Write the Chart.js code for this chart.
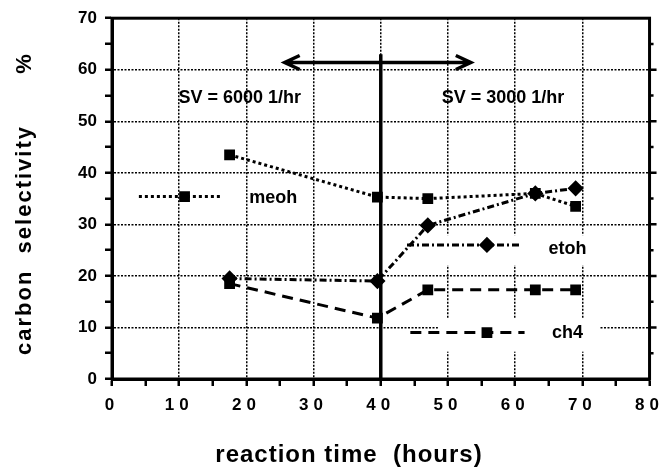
<!DOCTYPE html>
<html>
<head>
<meta charset="utf-8">
<script src="https://cdn.jsdelivr.net/npm/chart.js@4.4.1/dist/chart.umd.min.js"></script>
<style>
  html, body { margin: 0; padding: 0; background: #fff; }
  #wrap { width: 668px; height: 471px; }
</style>
</head>
<body>
<div id="wrap"><canvas id="chart" width="668" height="471"></canvas></div>
<script>
// sample times (hours) and carbon selectivity (%) per product
const timeHours = [17.5, 39.5, 47, 63, 69];
const meohSel = [43.5, 35.3, 35.0, 36.0, 33.5];
const etohSel = [19.5, 19.0, 29.8, 36.0, 37.0];
const ch4Sel = [18.5, 11.8, 17.3, 17.3, 17.3];

// axis ticks
const xTickLabels = ['0', '10', '20', '30', '40', '50', '60', '70', '80'];
const yTickLabels = ['0', '10', '20', '30', '40', '50', '60', '70'];

// in-plot keys: line sample x range + marker x, and height
const meohKeyX = [4, 10.8, 16.4];
const meohKeyY = 35.4;
const etohKeyX = [43.9, 55.8, 60.6];
const etohKeyY = 26.0;
const ch4KeyX = [44.4, 55.8, 61.4];
const ch4KeyY = 9.0;

// space velocity change at 40 h
const switchTime = 40;
const switchTop = 63;
const arrowSpan = [25.7, 53.4];
const arrowLevel = 61.4;
const svLabels = ['SV = 6000 1/hr', 'SV = 3000 1/hr'];
const svLabelX = [19, 58.2];
const svLabelY = 54.5;

const pts = (xs, ys) => xs.map((x, i) => ({ x: x, y: ys[i] }));
const flat = (xs, y) => xs.map(x => ({ x: x, y: y }));

const FONT = "'Liberation Sans', Arial, sans-serif";

const annotate = {
    id: 'annotate',
    beforeDatasetsDraw(chart) {
        const { ctx, chartArea: a, scales: { x, y } } = chart;
        ctx.save();
        // white patches behind the keys (they hide the grid there)
        ctx.fillStyle = '#fff';
        const patch = (x0, x1, y0, y1) => {
            const px0 = x.getPixelForValue(x0), px1 = x.getPixelForValue(x1);
            const py0 = y.getPixelForValue(y0), py1 = y.getPixelForValue(y1);
            ctx.fillRect(px0, py1, px1 - px0, py0 - py1);
        };
        patch(43, 76, 22.1, 27.9);
        patch(48.5, 72.5, 5.3, 11.8);
        // frame
        ctx.strokeStyle = '#000';
        ctx.lineWidth = 3;
        ctx.strokeRect(a.left, a.top, a.width, a.height);
        // ticks on the right edge
        ctx.lineWidth = 2.5;
        ctx.beginPath();
        for (let v = 5; v < 70; v += 5) {
            const py = y.getPixelForValue(v);
            ctx.moveTo(a.right, py);
            ctx.lineTo(a.right + (v % 10 ? 4 : 7), py);
        }
        ctx.stroke();
        ctx.restore();
    },
    afterDatasetsDraw(chart) {
        const { ctx, scales: { x, y } } = chart;
        ctx.save();
        ctx.fillStyle = '#000';
        ctx.strokeStyle = '#000';
        ctx.textBaseline = 'middle';
        ctx.textAlign = 'center';
        ctx.font = 'bold 18px ' + FONT;
        svLabels.forEach((t, i) => {
            ctx.fillText(t, x.getPixelForValue(svLabelX[i]), y.getPixelForValue(svLabelY));
        });
        ctx.fillText('meoh', x.getPixelForValue(24), y.getPixelForValue(35.2));
        ctx.fillText('etoh', x.getPixelForValue(67.8), y.getPixelForValue(25.2));
        ctx.fillText('ch4', x.getPixelForValue(67.8), y.getPixelForValue(9.0));

        // double arrow
        const ax0 = x.getPixelForValue(arrowSpan[0]);
        const ax1 = x.getPixelForValue(arrowSpan[1]);
        const ay = y.getPixelForValue(arrowLevel);
        ctx.lineWidth = 3.5;
        ctx.lineJoin = 'miter';
        ctx.beginPath();
        ctx.moveTo(ax0, ay);
        ctx.lineTo(ax1, ay);
        ctx.moveTo(ax0 + 15, ay - 7);
        ctx.lineTo(ax0, ay);
        ctx.lineTo(ax0 + 15, ay + 7);
        ctx.moveTo(ax1 - 15, ay - 7);
        ctx.lineTo(ax1, ay);
        ctx.lineTo(ax1 - 15, ay + 7);
        ctx.stroke();
        ctx.restore();
    },
    afterDraw(chart) {
        const { ctx } = chart;
        ctx.save();
        ctx.fillStyle = '#000';
        ctx.textAlign = 'center';
        ctx.textBaseline = 'middle';
        ctx.font = 'bold 24px ' + FONT;
        ctx.letterSpacing = '1px';
        ctx.fillText('reaction time  (hours)', 349, 455);
        ctx.translate(25, 240);
        ctx.rotate(-Math.PI / 2);
        ctx.font = 'bold 22px ' + FONT;
        ctx.letterSpacing = '2px';
        ctx.fillText('carbon  selectivity', 0, 0);
        ctx.fillText('%', 177, 0);
        ctx.restore();
    }
};

// spaced-out digits on the time axis
const spacedLabels = {
    id: 'spacedLabels',
    beforeDraw(chart) {
        const sx = chart.scales.x;
        if (sx && !sx._spaced) {
            const orig = sx.drawLabels.bind(sx);
            sx.drawLabels = function (area) {
                this.ctx.save();
                this.ctx.letterSpacing = '5px';
                orig(area);
                this.ctx.restore();
            };
            sx._spaced = true;
        }
    }
};

const tickEvery5 = (labels) => (v) => (v % 10 === 0 ? labels[v / 10] : '');

new Chart(document.getElementById('chart'), {
    type: 'line',
    data: {
        datasets: [{
            label: 'meoh',
            data: pts(timeHours, meohSel),
            borderColor: '#000',
            backgroundColor: '#000',
            borderWidth: 3,
            borderDash: [3, 3],
            pointStyle: 'rect',
            pointRadius: 5.5,
            tension: 0
        }, {
            label: 'ch4',
            data: pts(timeHours, ch4Sel),
            borderColor: '#000',
            backgroundColor: '#000',
            borderWidth: 3,
            borderDash: [11, 7],
            pointStyle: 'rect',
            pointRadius: 5.5,
            tension: 0
        }, {
            label: 'etoh',
            data: pts(timeHours, etohSel),
            borderColor: '#000',
            backgroundColor: '#000',
            borderWidth: 3,
            borderDash: [7, 3, 2, 3],
            pointStyle: 'rectRot',
            pointRadius: 6,
            tension: 0
        }, {
            label: 'meoh key',
            data: flat(meohKeyX, meohKeyY),
            borderColor: '#000',
            backgroundColor: '#000',
            borderWidth: 3,
            borderDash: [3, 3],
            pointStyle: 'rect',
            pointRadius: [0, 5.5, 0]
        }, {
            label: 'etoh key',
            data: flat(etohKeyX, etohKeyY),
            borderColor: '#000',
            backgroundColor: '#000',
            borderWidth: 3,
            borderDash: [7, 3, 2, 3],
            pointStyle: 'rectRot',
            pointRadius: [0, 6, 0]
        }, {
            label: 'ch4 key',
            data: flat(ch4KeyX, ch4KeyY),
            borderColor: '#000',
            backgroundColor: '#000',
            borderWidth: 3,
            borderDash: [11, 7],
            pointStyle: 'rect',
            pointRadius: [0, 5.5, 0]
        }, {
            label: 'switch',
            data: [{ x: switchTime, y: 0 }, { x: switchTime, y: switchTop }],
            borderColor: '#000',
            borderWidth: 3.5,
            pointRadius: 0
        }]
    },
    options: {
        responsive: false,
        animation: false,
        events: [],
        layout: {
            padding: { left: 0, right: 15, top: 15, bottom: 0 }
        },
        plugins: {
            legend: { display: false },
            tooltip: { enabled: false }
        },
        scales: {
            x: {
                type: 'linear',
                min: 0,
                max: 80,
                afterFit: s => { s.height = 92; },
                ticks: {
                    stepSize: 5,
                    autoSkip: false,
                    maxRotation: 0,
                    padding: 9,
                    color: '#000',
                    font: { family: FONT, size: 17, weight: 'bold' },
                    callback: tickEvery5(xTickLabels)
                },
                grid: {
                    color: c => (c.tick && c.tick.value % 10 === 0 ? '#000' : 'rgba(0,0,0,0)'),
                    lineWidth: 1.5,
                    tickColor: '#000',
                    tickWidth: 2.5,
                    tickLength: 7
                },
                border: { display: true, color: '#000', width: 3, dash: [2, 1.5] }
            },
            y: {
                min: 0,
                max: 70,
                afterFit: s => { s.width = 112; },
                ticks: {
                    stepSize: 5,
                    autoSkip: false,
                    padding: 8,
                    color: '#000',
                    font: { family: FONT, size: 17, weight: 'bold' },
                    callback: tickEvery5(yTickLabels)
                },
                grid: {
                    color: c => (c.tick && c.tick.value % 10 === 0 ? '#000' : 'rgba(0,0,0,0)'),
                    lineWidth: 1.5,
                    tickColor: '#000',
                    tickWidth: 2.5,
                    tickLength: 7
                },
                border: { display: true, color: '#000', width: 3, dash: [2, 1.5] }
            }
        }
    },
    plugins: [annotate, spacedLabels]
});
</script>
</body>
</html>
